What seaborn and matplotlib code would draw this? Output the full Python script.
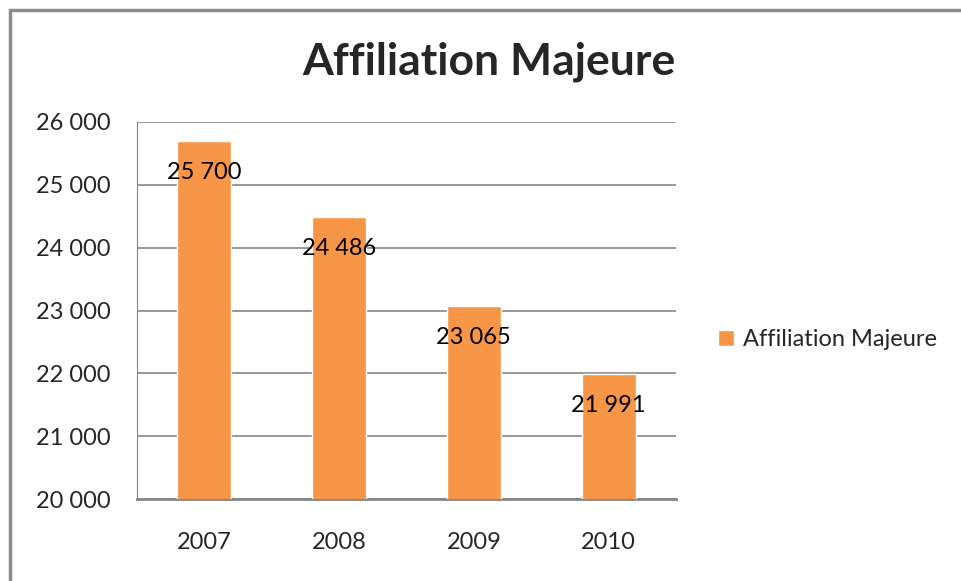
import pandas as pd
import seaborn as sns
import matplotlib.pyplot as plt
from matplotlib.lines import Line2D
from matplotlib.ticker import FuncFormatter, FixedLocator

sns.set_style("white")
plt.rcParams['font.family'] = ['Lato', 'DejaVu Sans']

# Data
years = ["2007", "2008", "2009", "2010"]
values = [25700, 24486, 23065, 21991]
series_name = "Affiliation Majeure"

df = pd.DataFrame({"year": years, "value": values})

bar_color = "#F79646"
grid_color = "#868686"

fig = plt.figure(figsize=(9.62, 5.81), dpi=100)
ax = fig.add_axes([137/962, 82/581, 539/962, 377/581])

sns.barplot(data=df, x="year", y="value", color=bar_color, width=0.4,
            saturation=1, label=series_name, ax=ax, zorder=3)

ax.set_ylim(20000, 26000)
ax.set_xlim(-0.5, 3.5)
ax.set_yticks(range(20000, 26001, 1000))
ax.yaxis.set_major_formatter(FuncFormatter(lambda v, p: "{:,}".format(int(v)).replace(",", " ")))
ax.yaxis.grid(True, color=grid_color, linewidth=1.2, zorder=0)
ax.set_axisbelow(True)
ax.set_xlabel("")
ax.set_ylabel("")

for s in ["top", "right"]:
    ax.spines[s].set_visible(False)
ax.spines["left"].set_color(grid_color)
ax.spines["bottom"].set_color(grid_color)
ax.spines["bottom"].set_linewidth(2)

ax.tick_params(axis="y", length=8, color=grid_color, pad=11, labelsize=17)
ax.tick_params(axis="x", which="major", length=0, pad=24, labelsize=17)
ax.xaxis.set_minor_locator(FixedLocator([-0.5, 0.5, 1.5, 2.5, 3.5]))
ax.tick_params(axis="x", which="minor", length=8, color=grid_color, direction="out")

# value labels inside the bars
for i, v in enumerate(values):
    ax.text(i, v - 500, "{:,}".format(v).replace(",", " "),
            ha="center", va="center", fontsize=17, color="black", zorder=4)

fig.text(489/962, 1 - 62/581, "Affiliation Majeure", ha="center", va="center",
         fontsize=32, fontweight="bold")

ax.legend(loc="center left", bbox_to_anchor=(697/962, 1 - 340/581),
          bbox_transform=fig.transFigure, frameon=False, fontsize=17,
          handlelength=0.65, handleheight=0.65, handletextpad=0.4)

# outer frame (top and left only)
fig.add_artist(Line2D([10/962, 1], [1 - 10/581, 1 - 10/581], color="#8c8c8c",
                      linewidth=2.5, transform=fig.transFigure))
fig.add_artist(Line2D([10/962, 10/962], [0, 1 - 10/581], color="#8c8c8c",
                      linewidth=2.5, transform=fig.transFigure))

plt.savefig("out.png", dpi=100)
